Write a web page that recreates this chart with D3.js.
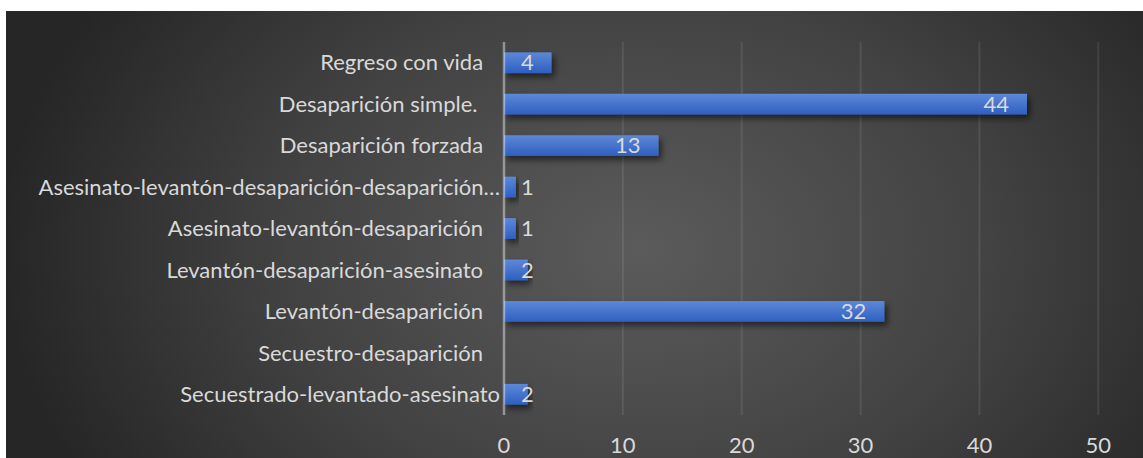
<!DOCTYPE html>
<html>
<head>
<meta charset="utf-8">
<script src="https://cdn.jsdelivr.net/npm/d3@7"></script>
<style>
  html, body { margin: 0; padding: 0; background: #ffffff; }
  svg { display: block; }
  text { font-family: Lato, "Noto Sans", sans-serif; }
</style>
</head>
<body>
<svg id="chart" width="1143" height="458"></svg>
<script>
// Categories, top to bottom (trailing spaces keep the spacing used in the source sheet)
const categories = [
  "Regreso con vida   ",
  "Desaparición simple.    ",
  "Desaparición forzada   ",
  "Asesinato-levantón-desaparición-desaparición…",
  "Asesinato-levantón-desaparición   ",
  "Levantón-desaparición-asesinato   ",
  "Levantón-desaparición   ",
  "Secuestro-desaparición   ",
  "Secuestrado-levantado-asesinato"
];
const values = [4, 44, 13, 1, 1, 2, 32, 0, 2];
const tickValues = [0, 10, 20, 30, 40, 50];

const W = 1143, H = 458;
const svg = d3.select("#chart");
const defs = svg.append("defs");

// Dark radial backdrop
const bg = defs.append("radialGradient")
  .attr("id", "bgGrad")
  .attr("gradientUnits", "userSpaceOnUse")
  .attr("cx", 640).attr("cy", 250).attr("r", 640)
  .attr("gradientTransform", "translate(640,250) scale(1,0.72) translate(-640,-250)");
bg.append("stop").attr("offset", "0").attr("stop-color", "#5b5b5b");
bg.append("stop").attr("offset", "0.55").attr("stop-color", "#424242");
bg.append("stop").attr("offset", "1").attr("stop-color", "#262626");

// Bar fill
const barGrad = defs.append("linearGradient")
  .attr("id", "barGrad")
  .attr("x1", 0).attr("y1", 0).attr("x2", 0).attr("y2", 1);
barGrad.append("stop").attr("offset", "0").attr("stop-color", "#5d88d8");
barGrad.append("stop").attr("offset", "1").attr("stop-color", "#2f5fc0");

// Soft shadow under bars
const shadow = defs.append("filter")
  .attr("id", "barShadow")
  .attr("x", "-20%").attr("y", "-50%").attr("width", "140%").attr("height", "220%");
shadow.append("feDropShadow")
  .attr("dx", 3).attr("dy", 4).attr("stdDeviation", 3)
  .attr("flood-color", "#000").attr("flood-opacity", 0.55);

svg.append("rect")
  .attr("x", 6).attr("y", 11)
  .attr("width", W - 6).attr("height", H - 11)
  .attr("fill", "url(#bgGrad)");

const x = d3.scaleLinear().domain([0, 50]).range([504, 1098.3]);
const y = d3.scaleBand().domain(categories).range([42, 415])
  .paddingInner(0.5).paddingOuter(0.25);

const textColor = "#d9d9d9";
const fontSize = 22;

// Vertical gridlines
svg.append("g").selectAll("line")
  .data(tickValues.filter(t => t !== 0))
  .join("line")
  .attr("x1", d => x(d)).attr("x2", d => x(d))
  .attr("y1", 42).attr("y2", 415)
  .attr("stroke", "#ffffff").attr("stroke-opacity", 0.09)
  .attr("stroke-width", 2);

// Bars
const data = categories.map((c, i) => ({ c, v: values[i] }));
svg.append("g").selectAll("rect")
  .data(data.filter(d => d.v > 0))
  .join("rect")
  .attr("x", x(0))
  .attr("y", d => y(d.c))
  .attr("width", d => x(d.v) - x(0))
  .attr("height", y.bandwidth())
  .attr("fill", "url(#barGrad)")
  .attr("filter", "url(#barShadow)");

// Zero axis line
svg.append("line")
  .attr("x1", x(0)).attr("x2", x(0))
  .attr("y1", 42).attr("y2", 415)
  .attr("stroke", "#ffffff").attr("stroke-opacity", 0.42)
  .attr("stroke-width", 2.5);

// Category labels
svg.append("g").selectAll("text")
  .data(categories)
  .join("text")
  .attr("x", x(0) - 4)
  .attr("y", d => y(d) + y.bandwidth() / 2)
  .attr("dy", "0.35em")
  .attr("text-anchor", "end")
  .style("white-space", "pre")
  .attr("font-size", fontSize)
  .attr("fill", textColor)
  .text(d => d);

// Value axis tick labels
svg.append("g").selectAll("text")
  .data(tickValues)
  .join("text")
  .attr("x", d => x(d))
  .attr("y", 453)
  .attr("text-anchor", "middle")
  .attr("font-size", fontSize)
  .attr("fill", textColor)
  .text(d => d);

// Data labels: inside the bar end, pushed right when the bar is too short
svg.append("g").selectAll("text")
  .data(data.filter(d => d.v > 0))
  .join("text")
  .attr("y", d => y(d.c) + y.bandwidth() / 2)
  .attr("dy", "0.35em")
  .attr("text-anchor", "start")
  .attr("font-size", fontSize)
  .attr("fill", textColor)
  .text(d => d.v)
  .each(function (d) {
    const w = this.getComputedTextLength();
    const start = Math.max(x(d.v) - 18 - w, x(0) + 17);
    d3.select(this).attr("x", start);
  });
</script>
</body>
</html>
